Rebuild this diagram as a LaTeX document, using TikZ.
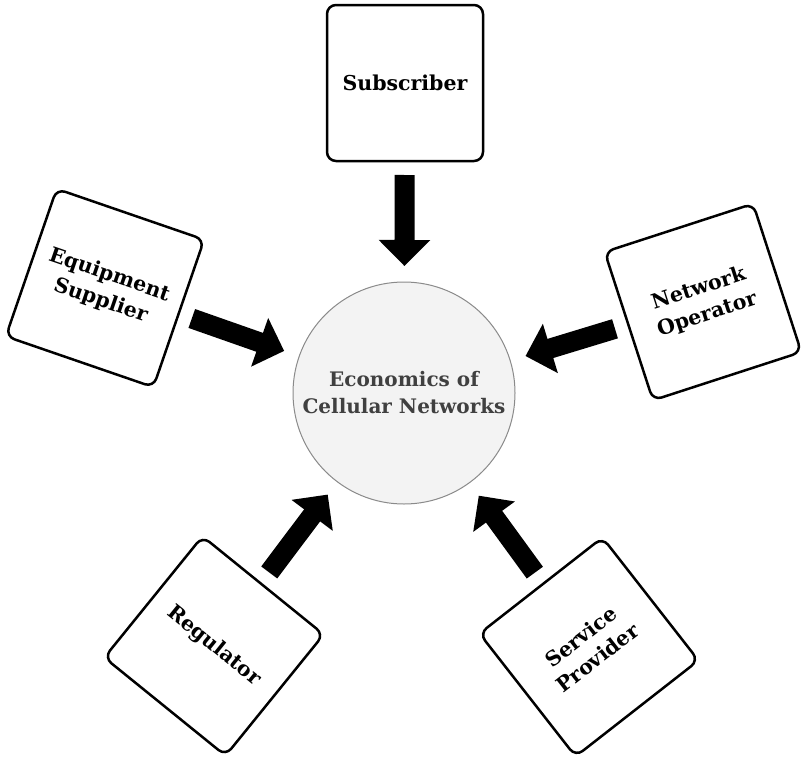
\documentclass[tikz,border=0pt]{standalone}
\usepackage{fontspec}
\setmainfont{DejaVu Serif}
\usetikzlibrary{arrows.meta}
\definecolor{circfill}{HTML}{F3F3F3}
\definecolor{circline}{HTML}{8A8A8A}
\definecolor{circtext}{HTML}{404040}
\tikzset{
  actor/.style={draw=black, line width=2.5pt, rounded corners=9pt, fill=white,
    minimum size=156pt, align=center, font=\fontsize{20.5}{27}\selectfont\bfseries, inner sep=0pt},
  hub/.style={circle, draw=circline, line width=1pt, fill=circfill, minimum size=222pt,
    align=center, text=circtext, font=\fontsize{20}{27}\selectfont\bfseries, inner sep=0pt},
  bigarrow/.style={line width=20pt, -{Triangle[width=50pt,length=26pt]}, shorten <=92pt, shorten >=127pt}
}
\begin{document}
\begin{tikzpicture}[x=1pt,y=1pt]
\useasboundingbox (0,0) rectangle (805,-758);
\node[hub] (c) at (404,-393) {Economics of\\Cellular Networks};
\node[actor] (sub) at (405,-83) {Subscriber};
\node[actor, rotate=-19] (eq) at (105,-288) {Equipment\\Supplier};
\node[actor, rotate=18] (net) at (703,-302) {Network\\Operator};
\node[actor, rotate=-39] (reg) at (214,-646) {Regulator};
\node[actor, rotate=38] (ser) at (589,-647) {Service\\Provider};
\draw[bigarrow] (sub.center) -- (c.center);
\draw[bigarrow] (eq.center) -- (c.center);
\draw[bigarrow] (net.center) -- (c.center);
\draw[bigarrow] (reg.center) -- (c.center);
\draw[bigarrow] (ser.center) -- (c.center);
\end{tikzpicture}
\end{document}
